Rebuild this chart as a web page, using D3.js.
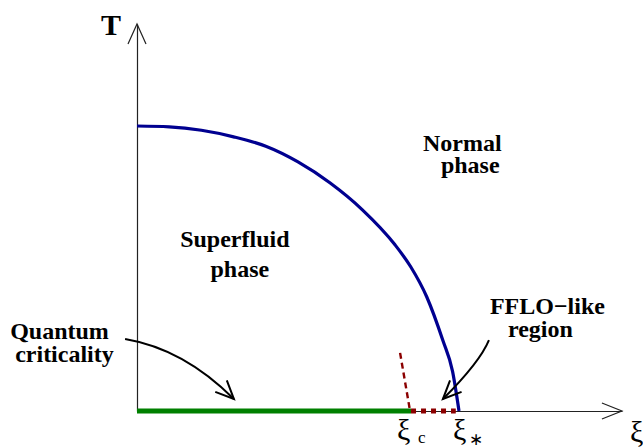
<!DOCTYPE html>
<html><head><meta charset="utf-8">
<script src="https://cdn.jsdelivr.net/npm/d3@7"></script>
<style>
html,body{margin:0;padding:0;background:#fff;}
svg{display:block;}
</style></head>
<body>
<script>
// ---- data (ξ in units of ξ*, T in units of Tc(0)) ----
const boundaryXi = [0, 0.1, 0.2, 0.3, 0.4, 0.5, 0.6, 0.7, 0.8, 0.85, 0.9, 0.95, 0.98, 1.0];
const boundaryT  = [1.0, 0.997, 0.985, 0.962, 0.929, 0.874, 0.800, 0.706, 0.585, 0.506, 0.400, 0.247, 0.139, 0.0];
const xiC = 0.851;          // quantum critical point ξc
const xiStar = 0.99;        // end of FFLO-like segment
const slantXi = [0.817, 0.848];
const slantT  = [0.204, 0.0];
const axisMax = {xi: 1.506, T: 1.358};
const labelText = [["Superfluid","phase"], ["Normal","phase"], ["FFLO\u2212like","region"], ["Quantum","criticality"]];
const labelXi = [0.134, 0.888, 1.096, -0.394];
const labelT  = [0.575, 0.912, 0.340, 0.253];
// layout of second lines (pixels): vertical gap and horizontal shift from centred
const lineGap   = [30, 22, 23, 23];
const lineShift = [5, 8, -7, 5];
const arrows = [
  {from:[-0.037,0.253], ctrl:[0.146,0.218], to:[0.301,0.042]},
  {from:[1.093,0.249], ctrl:[1.065,0.172], to:[0.950,0.042]}
];

const W = 643, H = 448;
const FONT = '"Liberation Serif"';
const svg = d3.select("body").append("svg").attr("width", W).attr("height", H);
const x = d3.scaleLinear().domain([0, 1]).range([137, 459]);
const y = d3.scaleLinear().domain([0, 1]).range([411, 126]);

// axes (no ticks)
const xAx = d3.scaleLinear().domain([0, axisMax.xi]).range([x(0), x(axisMax.xi)]);
const yAx = d3.scaleLinear().domain([0, axisMax.T]).range([y(0), y(axisMax.T)]);
svg.append("g").attr("transform", `translate(0,${y(0)})`)
  .call(d3.axisBottom(xAx).tickValues([]).tickSizeOuter(0))
  .select(".domain").attr("stroke", "#222").attr("stroke-width", 1.2);
svg.append("g").attr("transform", `translate(${x(0)},0)`)
  .call(d3.axisLeft(yAx).tickValues([]).tickSizeOuter(0))
  .select(".domain").attr("stroke", "#222").attr("stroke-width", 1.2);
// arrowheads
const tipX = [x(axisMax.xi), y(0)];
svg.append("path").attr("d", `M${tipX[0]-20},${tipX[1]-8}L${tipX[0]},${tipX[1]}L${tipX[0]-20},${tipX[1]+8}`)
  .attr("fill", "none").attr("stroke", "#222").attr("stroke-width", 1.2);
const tipY = [x(0), y(axisMax.T)];
svg.append("path").attr("d", `M${tipY[0]-9},${tipY[1]+20}L${tipY[0]},${tipY[1]}L${tipY[0]+9},${tipY[1]+20}`)
  .attr("fill", "none").attr("stroke", "#222").attr("stroke-width", 1.2);

// phase boundary
const pts = boundaryXi.map((v, i) => [v, boundaryT[i]]);
svg.append("path").datum(pts)
  .attr("d", d3.line().x(d => x(d[0])).y(d => y(d[1])).curve(d3.curveMonotoneX))
  .attr("fill", "none").attr("stroke", "#000090").attr("stroke-width", 3.2);

// green superfluid ground state line
svg.append("line").attr("x1", x(0)).attr("x2", x(xiC)).attr("y1", y(0)).attr("y2", y(0))
  .attr("stroke", "#008000").attr("stroke-width", 5);
// red dashed FFLO-like segment
svg.append("line").attr("x1", x(xiC)).attr("x2", x(xiStar)).attr("y1", y(0)).attr("y2", y(0))
  .attr("stroke", "#8b0000").attr("stroke-width", 5).attr("stroke-dasharray", "5,5");
// slanted dashed line
svg.append("line").attr("x1", x(slantXi[0])).attr("y1", y(slantT[0])).attr("x2", x(slantXi[1])).attr("y2", y(slantT[1]))
  .attr("stroke", "#8b0000").attr("stroke-width", 2.4).attr("stroke-dasharray", "6,4");

function txt(sel) { return sel.append("text").style("font-family", FONT); }

// labels: one text per block; second line centred under the first
labelText.forEach((lines, i) => {
  const x0 = x(labelXi[i]);
  const t = txt(svg).attr("y", y(labelT[i])).style("font-weight", "bold").style("font-size", "24px");
  const s1 = t.append("tspan").attr("x", x0).text(lines[0]);
  const w = s1.node().getComputedTextLength();
  t.append("tspan").attr("x", x0 + w / 2 + lineShift[i]).attr("dy", lineGap[i])
    .attr("text-anchor", "middle").text(lines[1]);
});
txt(svg).attr("x", 101).attr("y", 35).style("font-weight", "bold").style("font-size", "30px").text("T");

// annotation arrows
arrows.forEach(a => {
  const p = d3.path();
  p.moveTo(x(a.from[0]), y(a.from[1]));
  p.quadraticCurveTo(x(a.ctrl[0]), y(a.ctrl[1]), x(a.to[0]), y(a.to[1]));
  svg.append("path").attr("d", p.toString()).attr("fill", "none").attr("stroke", "#000").attr("stroke-width", 2);
  const tx = x(a.to[0]), ty = y(a.to[1]);
  const ang = Math.atan2(ty - y(a.ctrl[1]), tx - x(a.ctrl[0]));
  const L = 20, s = 0.42;
  const h = d3.path();
  h.moveTo(tx - L*Math.cos(ang - s), ty - L*Math.sin(ang - s));
  h.lineTo(tx, ty);
  h.lineTo(tx - L*Math.cos(ang + s), ty - L*Math.sin(ang + s));
  svg.append("path").attr("d", h.toString()).attr("fill", "none").attr("stroke", "#000").attr("stroke-width", 2);
});

// ξ labels
const big = "30px";
txt(svg).attr("x", x(xiC) - 14).attr("y", 440).style("font-size", big).text("\u03BE");
txt(svg).attr("x", x(xiC) + 7).attr("y", 443).style("font-size", "17px").text("c");
txt(svg).attr("x", x(1) - 6).attr("y", 440).style("font-size", big).text("\u03BE");
txt(svg).attr("x", x(1) + 10).attr("y", 445).style("font-size", "17px").text("\u2217");
txt(svg).attr("x", x(axisMax.xi) + 8).attr("y", 442).style("font-size", big).text("\u03BE");
</script>
</body></html>
